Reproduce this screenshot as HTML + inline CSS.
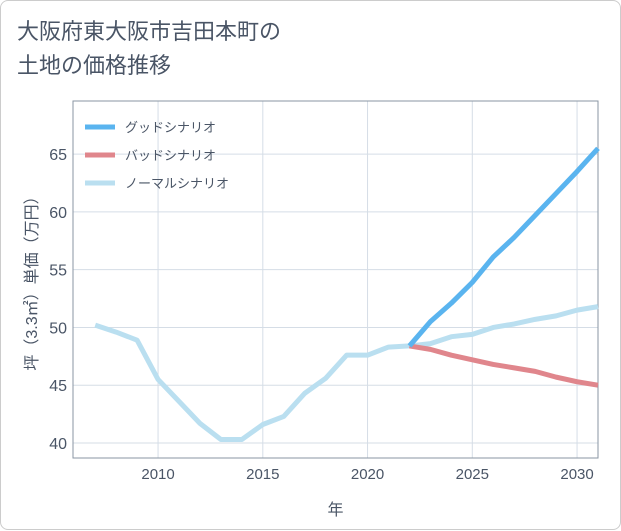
<!DOCTYPE html>
<html><head><meta charset="utf-8"><style>
body{margin:0;background:#fff;}
.wrap{position:relative;width:621px;height:530px;box-sizing:border-box;border:1px solid #ccc;border-radius:8px;background:#fff;font-family:"Liberation Sans","Noto Sans CJK JP",sans-serif;}
.title{position:absolute;left:16px;top:14px;font-size:22px;line-height:34px;color:#4a5566;}
text{font-family:"Liberation Sans","Noto Sans CJK JP",sans-serif;}
</style></head><body>
<div class="wrap">
<div class="title">大阪府東大阪市吉田本町の<br>土地の価格推移</div>
<svg id="chart" width="621" height="530" style="position:absolute;left:0;top:0"></svg>
</div>
<script>
const years=[2007,2008,2009,2010,2011,2012,2013,2014,2015,2016,2017,2018,2019,2020,2021,2022,2023,2024,2025,2026,2027,2028,2029,2030,2031];
const normal=[50.2,49.6,48.9,45.5,43.6,41.7,40.3,40.3,41.6,42.3,44.3,45.6,47.6,47.6,48.3,48.4,48.6,49.2,49.4,50.0,50.3,50.7,51.0,51.5,51.8];
const goodYears=[2022,2023,2024,2025,2026,2027,2028,2029,2030,2031];
const good=[48.4,50.5,52.1,53.9,56.1,57.8,59.7,61.6,63.5,65.5];
const bad=[48.4,48.1,47.6,47.2,46.8,46.5,46.2,45.7,45.3,45.0];
const xTicks=[2010,2015,2020,2025,2030];
const yTicks=[40,45,50,55,60,65];
const L=72,R=597,T=100,B=457;
const xMin=2005.94,xMax=2031,yMin=38.7,yMax=69.6;
const sx=v=>L+(v-xMin)/(xMax-xMin)*(R-L);
const sy=v=>B-(v-yMin)/(yMax-yMin)*(B-T);
const svg=document.getElementById('chart');
const NS='http://www.w3.org/2000/svg';
const TC='#4a5566';
function mk(t,a){const e=document.createElementNS(NS,t);for(const k in a)e.setAttribute(k,a[k]);svg.appendChild(e);return e;}
xTicks.forEach(v=>{
const g=mk('line',{x1:sx(v),x2:sx(v),y1:T,y2:B,stroke:'#d5dde6','stroke-width':1});


const t=mk('text',{x:sx(v),y:B+21,'text-anchor':'middle','font-size':15,fill:TC});t.textContent=v;


});
yTicks.forEach(v=>{
const g=mk('line',{x1:L,x2:R,y1:sy(v),y2:sy(v),stroke:'#d5dde6','stroke-width':1});


const t=mk('text',{x:L-6,y:sy(v)+6,'text-anchor':'end','font-size':16,fill:TC});t.textContent=v;


});
const fr=mk('rect',{x:L,y:T,width:R-L,height:B-T,fill:'none',stroke:'#8a96a3','stroke-width':1});


function line(xs,ys,color,name){
const p=mk('polyline',{points:xs.map((x,i)=>sx(x)+','+sy(ys[i])).join(' '),fill:'none',stroke:color,'stroke-width':5,'stroke-linejoin':'round'});


}
line(years,normal,'#badff0','normal-scenario-line');
line(goodYears,bad,'#e0868c','bad-scenario-line');
line(goodYears,good,'#5ab4ef','good-scenario-line');
const leg=[['グッドシナリオ','#5ab4ef'],['バッドシナリオ','#e0868c'],['ノーマルシナリオ','#badff0']];
leg.forEach((d,i)=>{
const y=126+i*28;
const l=mk('line',{x1:84,x2:114,y1:y,y2:y,stroke:d[1],'stroke-width':5});


const t=mk('text',{x:124,y:y+5,'font-size':13,fill:TC});t.textContent=d[0];


});
const xt=mk('text',{x:(L+R)/2,y:514,'text-anchor':'middle','font-size':16,fill:TC});xt.textContent='年';


const yt=mk('text',{x:0,y:0,'text-anchor':'middle','font-size':16,fill:TC,transform:'translate(36,'+((T+B)/2)+') rotate(-90)'});yt.textContent='坪（3.3㎡）単価（万円）';


</script>
</body></html>
